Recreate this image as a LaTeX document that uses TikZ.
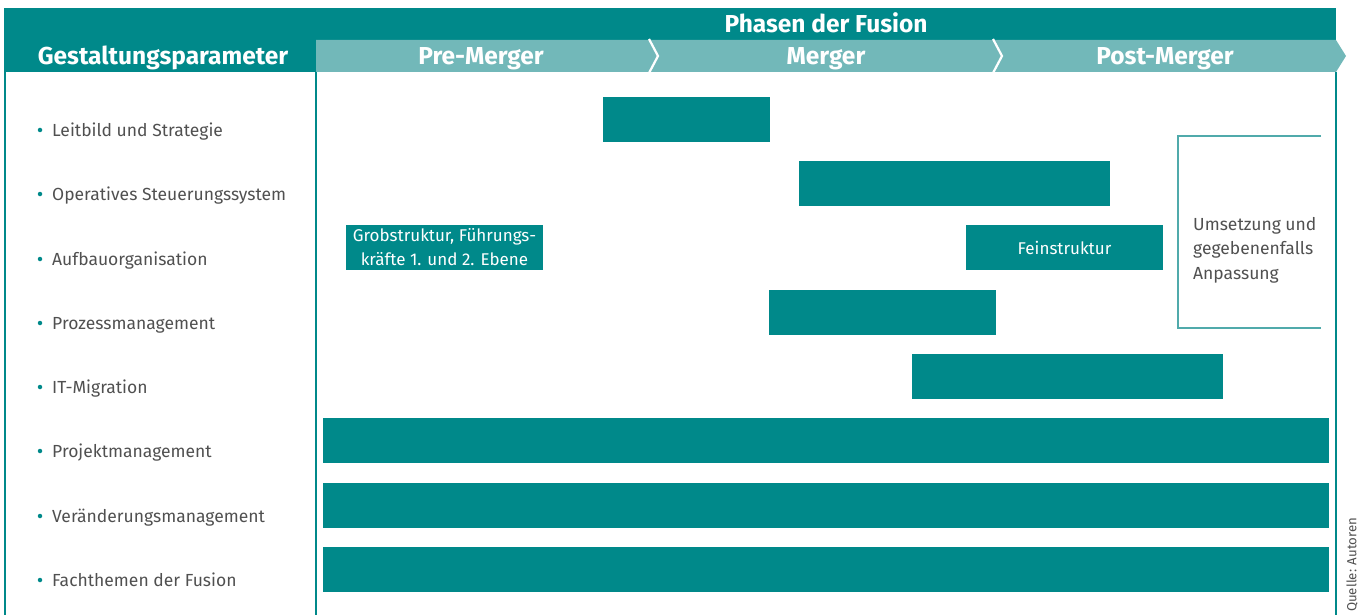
\documentclass[tikz,border=0pt]{standalone}
\usepackage{fontspec}
\setmainfont{Fira Sans}
\definecolor{tealdark}{RGB}{0,137,138}
\definecolor{teallight}{RGB}{114,184,185}
\definecolor{txtgray}{RGB}{80,80,80}
\begin{document}
\begin{tikzpicture}[x=1pt,y=-1pt,
  bar/.style={fill=tealdark, draw=none, inner sep=0pt, minimum height=45pt},
  rowlabel/.style={anchor=base west, text=txtgray, font=\fontsize{17.5}{21}\selectfont, inner sep=0pt},
  head/.style={anchor=base, text=white, font=\fontsize{24.5}{28}\selectfont\bfseries, inner sep=0pt},
  frame/.style={draw=tealdark, line width=1.6pt},
  chev/.style={draw=white, line width=2.2pt, line join=miter},
  bullet/.style={circle, fill=tealdark, inner sep=0pt, minimum size=4.5pt}]
\useasboundingbox (0,0) rectangle (1365,615);
% header blocks
\fill[tealdark] (4,8) rectangle (1336,40);
\fill[tealdark] (4,40) rectangle (316,72);
\fill[teallight] (316,40) -- (1336,40) -- (1346,56) -- (1336,72) -- (316,72) -- cycle;
\draw[chev] (649,39) -- (658,56) -- (649,73);
\draw[chev] (993,39) -- (1002,56) -- (993,73);
% frame
\draw[frame] (5,72) -- (5,615);
\draw[frame] (316,72) -- (316,615);
\draw[frame] (1336,72) -- (1336,615);
% header text
\node[head] (phasen) at (826,33) {Phasen der Fusion};
\node[head] (gest) at (163,65) {Gestaltungsparameter};
\node[head] (pre) at (481,65) {Pre-Merger};
\node[head] (mer) at (826,65) {Merger};
\node[head] (post) at (1165,65) {Post-Merger};
% row labels
\foreach \y/\t [count=\i] in {130/Leitbild und Strategie, 194/Operatives Steuerungssystem, 259/Aufbauorganisation, 323/Prozessmanagement, 387/IT-Migration, 451/Projektmanagement, 516/Veränderungsmanagement, 580/Fachthemen der Fusion}{
  \node[bullet] (b\i) at (40,\y) {};
  \node[rowlabel] (r\i) at (52,\y+6) {\t};
}
% bars
\node[bar, minimum width=167pt] (leit) at (686.5,119.5) {};
\node[bar, minimum width=311pt] (oper) at (954.5,183.5) {};
\node[bar, minimum width=197pt, text=white, align=center, font=\fontsize{17}{24}\selectfont] (grob) at (444.5,247.5) {Grobstruktur, Führungs-\\kräfte 1. und 2. Ebene};
\node[bar, minimum width=197pt, text=white, font=\fontsize{17}{24}\selectfont] (fein) at (1064.5,247.5) {Feinstruktur};
\node[bar, minimum width=227pt] (proz) at (882.5,312.5) {};
\node[bar, minimum width=311pt] (itm) at (1067.5,376.5) {};
\node[bar, minimum width=1006pt] (proj) at (826,440.5) {};
\node[bar, minimum width=1006pt] (ver) at (826,505.5) {};
\node[bar, minimum width=1006pt] (fach) at (826,569.5) {};
% Umsetzung box
\draw[draw=teallight!70!tealdark, line width=1.4pt] (1321,136) -- (1178,136) -- (1178,328) -- (1321,328);
\node[anchor=west, text=txtgray, align=left, inner sep=0pt, font=\fontsize{17.5}{24.5}\selectfont] (ums) at (1193,250) {Umsetzung und\\gegebenenfalls\\Anpassung};
% source
\node[rotate=90, anchor=west, text=txtgray, inner sep=0pt, font=\fontsize{13.2}{15}\selectfont] (quelle) at (1352,612) {Quelle: Autoren};
\end{tikzpicture}
\end{document}
